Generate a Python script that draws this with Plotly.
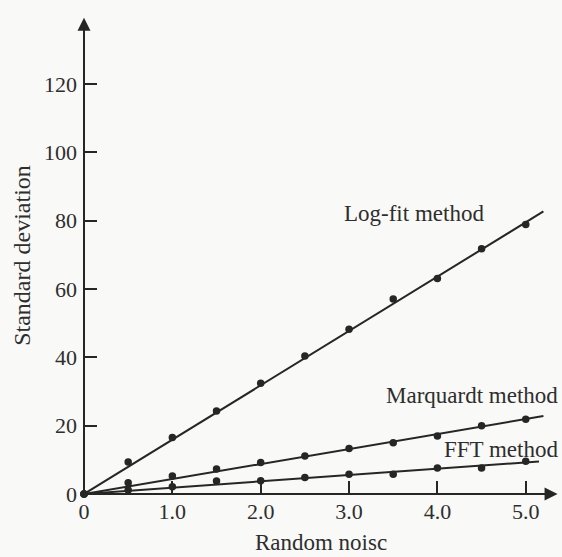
import plotly.graph_objects as go

# ---- data ----
noise = [0, 0.5, 1.0, 1.5, 2.0, 2.5, 3.0, 3.5, 4.0, 4.5, 5.0]
logfit_sd = [0, 9.4, 16.5, 24.3, 32.4, 40.4, 48.2, 57.1, 63.1, 71.8, 78.9]
marquardt_sd = [0, 3.3, 5.3, 7.3, 9.2, 11.1, 13.3, 15.0, 17.0, 20.0, 21.9]
fft_sd = [0, 1.2, 2.1, 3.8, 3.9, 4.8, 5.8, 5.8, 7.6, 7.6, 9.6]

# fitted straight lines (start, end)
logfit_line_x = [0, 5.2]
logfit_line_y = [0, 82.7]
marquardt_line_x = [0, 5.2]
marquardt_line_y = [0, 22.8]
fft_line_x = [0, 5.15]
fft_line_y = [0, 9.5]

x_tickvals = [0, 1, 2, 3, 4, 5]
x_ticktext = ["0", "1.0", "2.0", "3.0", "4.0", "5.0"]
y_tickvals = [0, 20, 40, 60, 80, 100, 120]
y_ticktext = ["0", "20", "40", "60", "80", "100", "120"]

INK = "#262626"
TXT = "#2e2e2e"
BG = "#f9f9f7"
FONT = "Liberation Serif"

fig = go.Figure()
for lx, ly in [(logfit_line_x, logfit_line_y),
               (marquardt_line_x, marquardt_line_y),
               (fft_line_x, fft_line_y)]:
    fig.add_trace(go.Scatter(x=lx, y=ly, mode="lines",
                             line=dict(color=INK, width=2),
                             showlegend=False, hoverinfo="skip", cliponaxis=False))
for ys in [logfit_sd, marquardt_sd, fft_sd]:
    fig.add_trace(go.Scatter(x=noise, y=ys, mode="markers",
                             marker=dict(color=INK, size=7.5),
                             showlegend=False, cliponaxis=False))

# axes drawn as arrows
fig.add_annotation(x=5.36, y=0, ax=0, ay=0, xref="x", yref="y", axref="x", ayref="y",
                   text="", showarrow=True, arrowhead=2, arrowsize=1.3,
                   arrowwidth=2, arrowcolor=INK)
fig.add_annotation(x=0, y=139.4, ax=0, ay=0, xref="x", yref="y", axref="x", ayref="y",
                   text="", showarrow=True, arrowhead=2, arrowsize=1.3,
                   arrowwidth=2, arrowcolor=INK)

lab_font = dict(family=FONT, size=23, color=TXT)
fig.add_annotation(x=2.92, y=82.2, text="Log-fit method", showarrow=False,
                   xanchor="left", yanchor="middle", font=lab_font)
fig.add_annotation(x=1.004, xref="paper", y=28.7, text="Marquardt method", showarrow=False,
                   xanchor="right", yanchor="middle", font=lab_font)
fig.add_annotation(x=1.004, xref="paper", y=12.9, text="FFT method", showarrow=False,
                   xanchor="right", yanchor="middle", font=lab_font)

fig.update_layout(
    width=562, height=557,
    margin=dict(l=84, r=4, t=17, b=63),
    paper_bgcolor=BG, plot_bgcolor=BG,
    font=dict(family=FONT, size=22, color=TXT),
    xaxis=dict(range=[0, 5.365], showgrid=False, zeroline=False, showline=False,
               automargin=False, ticklabelstandoff=2,
               tickvals=x_tickvals, ticktext=x_ticktext, ticks="inside",
               ticklen=13, tickwidth=1.5, tickcolor=INK,
               title=dict(text="Random noisc", font=dict(family=FONT, size=23, color=TXT),
                          standoff=10)),
    yaxis=dict(range=[0, 139.6], showgrid=False, zeroline=False, showline=False,
               automargin=False, ticklabelstandoff=6,
               tickvals=y_tickvals, ticktext=y_ticktext, ticks="inside",
               ticklen=13, tickwidth=1.5, tickcolor=INK,
               title=dict(text="Standard deviation", font=dict(family=FONT, size=24, color=TXT),
                          standoff=6)),
)

fig.write_html("out.html", config={"displayModeBar": False},
               post_script="document.body.style.margin='0';"
                           "document.body.style.background='" + BG + "';")
